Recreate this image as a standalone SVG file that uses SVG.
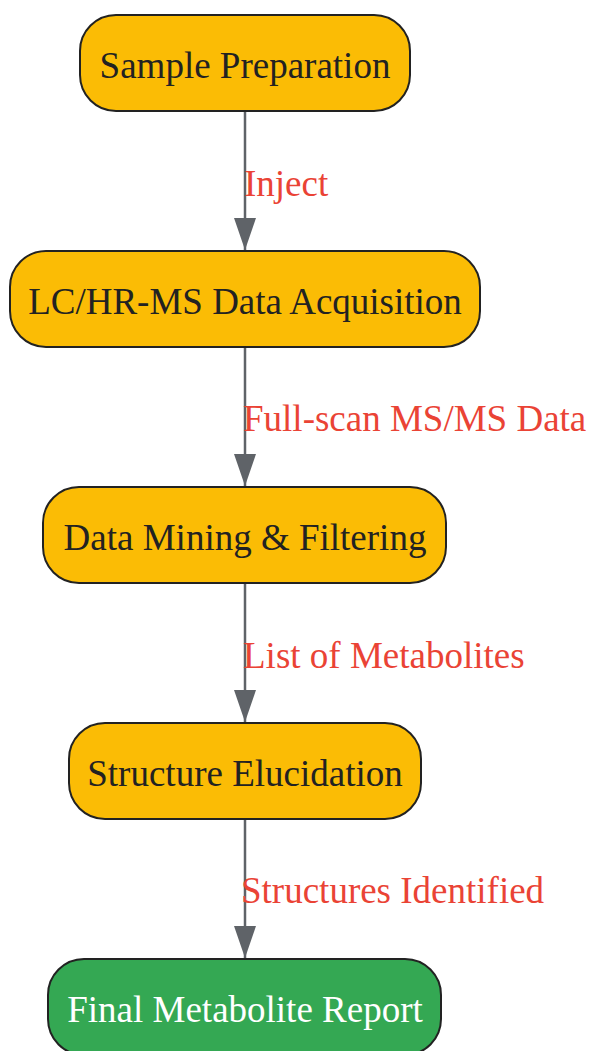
<svg xmlns="http://www.w3.org/2000/svg" width="594" height="1051" viewBox="0 0 594 1051">
<style>
.n rect{fill:#fbbc05;stroke:#222;stroke-width:2}
.n text{font-family:"Liberation Serif",serif;font-size:37px;fill:#222;text-anchor:middle}
.g rect{fill:#34a853}
.g text{fill:#fff}
.e line{stroke:#5f6368;stroke-width:2.5}
.l{font-family:"Liberation Serif",serif;font-size:37px;fill:#ea4335}
</style>
<defs>
<marker id="b" markerUnits="userSpaceOnUse" markerWidth="22" markerHeight="32" refX="11" refY="32" orient="0" viewBox="0 0 22 32">
<path d="M0,0 L22,0 L11,32 Z" fill="#5f6368"/>
</marker>
</defs>
<g id="edges" class="e">
<line x1="245" y1="111" x2="245" y2="250" marker-end="url(#b)"/>
<line x1="245" y1="347" x2="245" y2="486" marker-end="url(#b)"/>
<line x1="245" y1="583" x2="245" y2="722" marker-end="url(#b)"/>
<line x1="245" y1="819" x2="245" y2="958" marker-end="url(#b)"/>
</g>
<g id="labels">
<text class="l" x="244" y="196">Inject</text>
<text class="l" x="243" y="431">Full-scan MS/MS Data</text>
<text class="l" x="243" y="668">List of Metabolites</text>
<text class="l" x="241" y="903">Structures Identified</text>
</g>
<g id="n1" class="n"><rect x="80" y="15" width="330" height="96" rx="36"/><text x="245" y="78">Sample Preparation</text></g>
<g id="n2" class="n"><rect x="10" y="251" width="470" height="96" rx="36"/><text x="245" y="314">LC/HR-MS Data Acquisition</text></g>
<g id="n3" class="n"><rect x="43" y="487" width="403" height="96" rx="36"/><text x="245" y="550">Data Mining &amp; Filtering</text></g>
<g id="n4" class="n"><rect x="69" y="723" width="352" height="96" rx="36"/><text x="245" y="786">Structure Elucidation</text></g>
<g id="n5" class="n g"><rect x="48" y="959" width="393" height="96" rx="36"/><text x="245" y="1022">Final Metabolite Report</text></g>
</svg>
